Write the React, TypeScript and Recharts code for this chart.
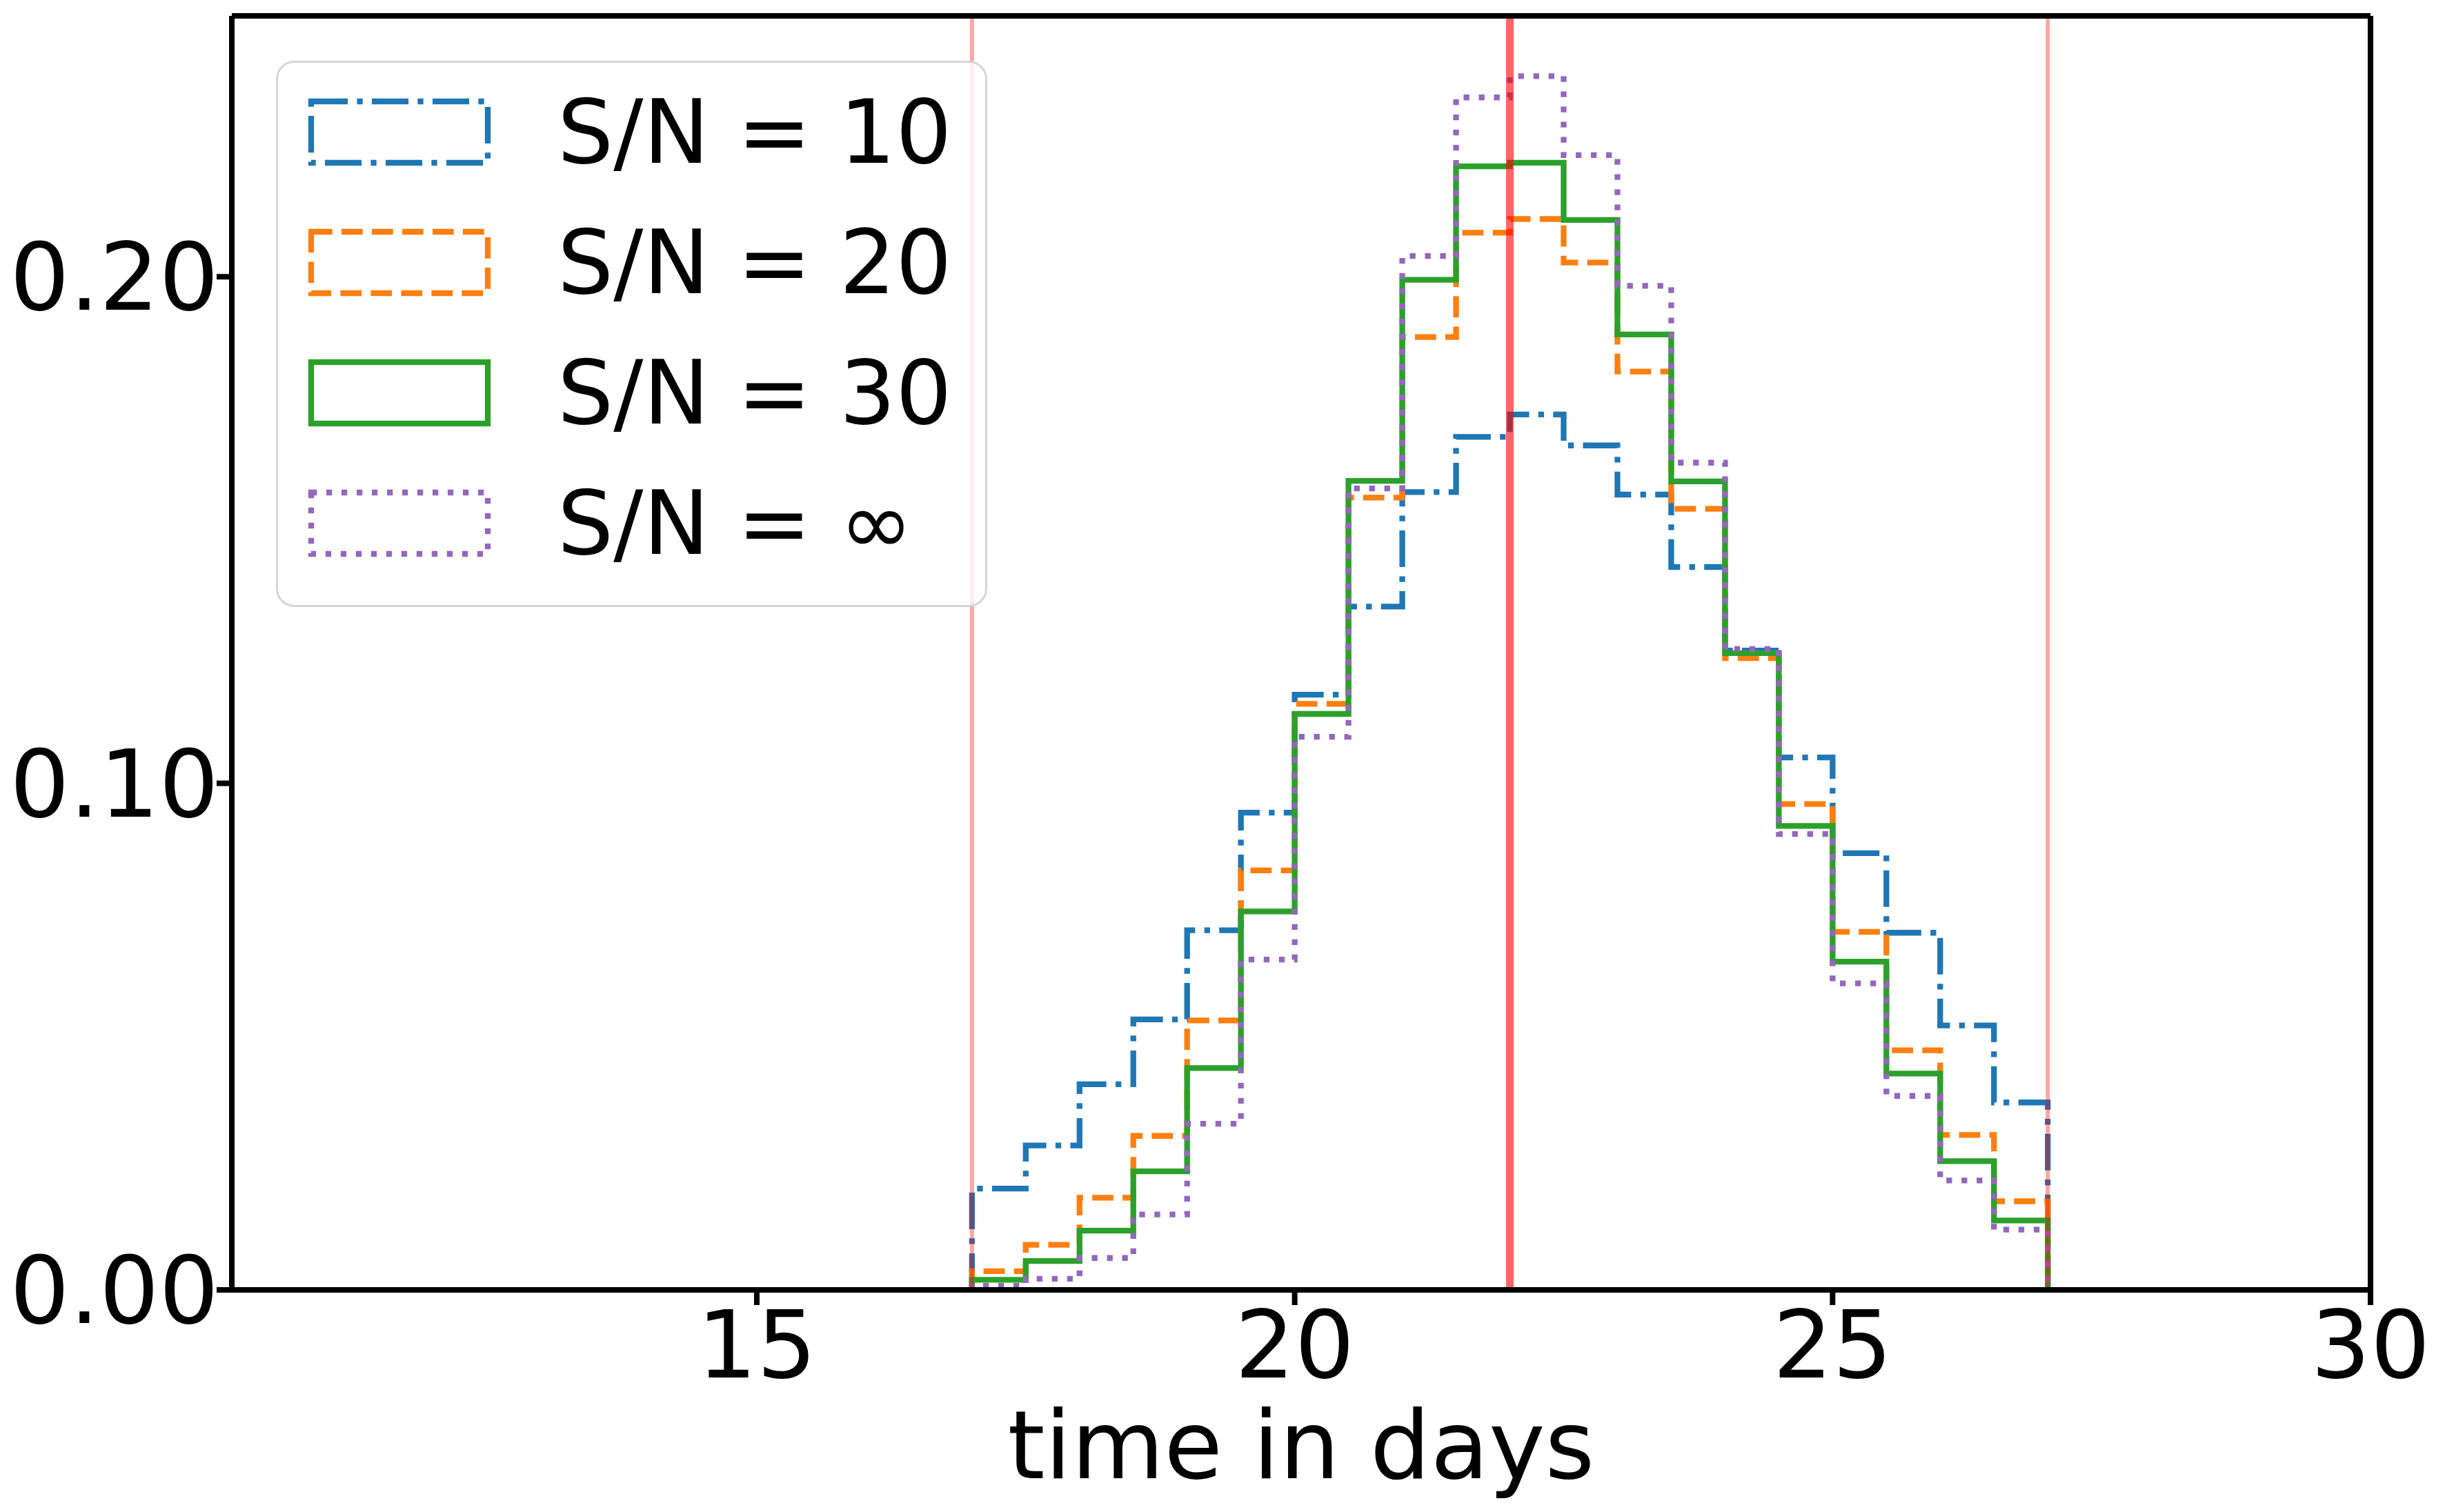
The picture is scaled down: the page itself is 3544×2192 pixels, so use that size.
import React from 'react';
import { ComposedChart, Line, XAxis, YAxis, ReferenceLine, Legend, Label } from 'recharts';

// Histogram bin left edges (days) and the right edge of the last bin
const binEdges = [17, 17.5, 18, 18.5, 19, 19.5, 20, 20.5, 21, 21.5, 22, 22.5, 23, 23.5, 24, 24.5, 25, 25.5, 26, 26.5];
const binEnd = 27;

// Normalised histogram heights per bin
const sn10 = [0.0200, 0.0285, 0.0406, 0.0534, 0.0710, 0.0942, 0.1175, 0.1349, 0.1575, 0.1684, 0.1728, 0.1667, 0.1570, 0.1427, 0.1262, 0.1051, 0.0862, 0.0705, 0.0522, 0.0370];
const sn20 = [0.0037, 0.0089, 0.0182, 0.0304, 0.0532, 0.0828, 0.1157, 0.1564, 0.1881, 0.2087, 0.2114, 0.2028, 0.1813, 0.1542, 0.1247, 0.0959, 0.0707, 0.0473, 0.0306, 0.0175];
const sn30 = [0.0020, 0.0057, 0.0117, 0.0234, 0.0438, 0.0747, 0.1137, 0.1597, 0.1994, 0.2218, 0.2225, 0.2112, 0.1886, 0.1596, 0.1257, 0.0916, 0.0648, 0.0427, 0.0254, 0.0137];
const snInf = [0.0008, 0.0022, 0.0063, 0.0149, 0.0328, 0.0652, 0.1092, 0.1582, 0.2041, 0.2354, 0.2396, 0.2240, 0.1982, 0.1633, 0.1265, 0.0900, 0.0605, 0.0383, 0.0216, 0.0119];

const seriesNames = ['S/N = 10', 'S/N = 20', 'S/N = 30', 'S/N = ∞'];
const xTicks = [15, 20, 25, 30];
const yTicks = [0, 0.1, 0.2];
const boundaryDays = [17, 27];
const centralDay = 22;
const xDomain = [10.12, 30];
const yDomain = [0, 0.2515];

const W = 3544;
const H = 2192;
const FONT = '"DejaVu Sans", sans-serif';
const LW = 8.3;

const series = [
  { key: 'sn10', name: seriesNames[0], values: sn10, color: '#1f77b4', dash: `${6.4 * LW} ${1.6 * LW} ${1 * LW} ${1.6 * LW}` },
  { key: 'sn20', name: seriesNames[1], values: sn20, color: '#ff7f0e', dash: `${3.7 * LW} ${1.6 * LW}` },
  { key: 'sn30', name: seriesNames[2], values: sn30, color: '#2ca02c', dash: undefined as string | undefined },
  { key: 'snInf', name: seriesNames[3], values: snInf, color: '#9467bd', dash: `${1 * LW} ${1.65 * LW}` },
];

// Build the step outline table: start at zero, one row per bin edge, close back to zero
const rows: Record<string, number>[] = [];
{
  const first: Record<string, number> = { t: binEdges[0] };
  series.forEach((s) => (first[s.key] = 0));
  rows.push(first);
  binEdges.forEach((edge, i) => {
    const r: Record<string, number> = { t: edge };
    series.forEach((s) => (r[s.key] = s.values[i]));
    rows.push(r);
  });
  const last: Record<string, number> = { t: binEnd };
  series.forEach((s) => (last[s.key] = 0));
  rows.push(last);
}

const LegendBox = () => (
  <svg width={1031} height={792} style={{ display: 'block', overflow: 'visible' }}>
    <rect x={1.5} y={1.5} width={1028} height={789} rx={25} ry={25} fill="rgba(255,255,255,0.8)" stroke="#d6d6d6" strokeWidth={3} />
    {series.map((s, i) => (
      <g key={s.key}>
        <rect
          x={51}
          y={59 + 189 * i}
          width={256}
          height={89}
          fill="none"
          stroke={s.color}
          strokeWidth={LW}
          strokeDasharray={s.dash}
          strokeLinejoin="miter"
        />
        <text x={408} y={148 + 189 * i} fontSize={128} fontFamily={FONT} fill="#000">
          {s.name}
        </text>
      </g>
    ))}
  </svg>
);

export default function App() {
  return (
    <div style={{ position: 'absolute', left: 0, top: 0, width: W, height: H, background: '#fff' }}>
      <ComposedChart width={W} height={H} data={rows} margin={{ top: 23, right: 108, left: 0, bottom: 0 }}>
        <XAxis
          dataKey="t"
          type="number"
          domain={xDomain}
          ticks={xTicks}
          interval={0}
          allowDataOverflow
          height={322}
          tickSize={22}
          tickMargin={8}
          tick={{ fontSize: 136, fill: '#000', fontFamily: FONT }}
          tickLine={{ stroke: '#000', strokeWidth: 8 }}
          axisLine={{ stroke: '#000', strokeWidth: 8 }}
        >
          <Label
            content={(props: any) => {
              const vb = props.viewBox || { x: 336, y: 1870, width: 3100, height: 322 };
              return (
                <text x={vb.x + vb.width / 2} y={vb.y + 273} textAnchor="middle" fontSize={138} fontFamily={FONT} fill="#000">
                  time in days
                </text>
              );
            }}
          />
        </XAxis>
        <YAxis
          type="number"
          domain={yDomain}
          ticks={yTicks}
          interval={0}
          allowDataOverflow
          width={336}
          tickSize={22}
          tickMargin={-3}
          tickFormatter={(v: number) => v.toFixed(2)}
          tick={{ fontSize: 136, fill: '#000', fontFamily: FONT }}
          tickLine={{ stroke: '#000', strokeWidth: 8 }}
          axisLine={{ stroke: '#000', strokeWidth: 8 }}
        />
        {series.map((s) => (
          <Line
            key={s.key}
            dataKey={s.key}
            name={s.name}
            type="stepAfter"
            stroke={s.color}
            strokeWidth={LW}
            strokeDasharray={s.dash}
            strokeLinecap="butt"
            strokeLinejoin="miter"
            dot={false}
            activeDot={false}
            isAnimationActive={false}
          />
        ))}
        {boundaryDays.map((d) => (
          <ReferenceLine key={d} x={d} stroke="rgba(255,0,0,0.35)" strokeWidth={6} />
        ))}
        <ReferenceLine x={centralDay} stroke="rgba(255,0,0,0.6)" strokeWidth={11} />
        <ReferenceLine y={yDomain[1]} stroke="#000" strokeWidth={8} />
        <ReferenceLine x={xDomain[1]} stroke="#000" strokeWidth={8} />
        <Legend
          layout="vertical"
          verticalAlign="middle"
          align="center"
          content={() => <LegendBox />}
          wrapperStyle={{ position: 'absolute', left: 400, top: 88, width: 1031, height: 792, margin: 0, padding: 0 }}
        />
      </ComposedChart>
    </div>
  );
}
